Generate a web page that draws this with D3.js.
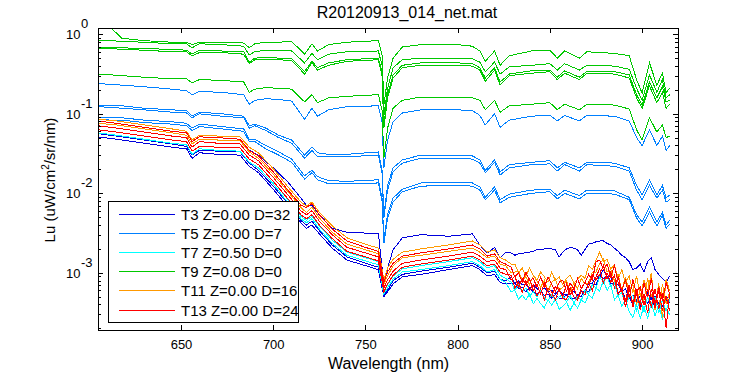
<!DOCTYPE html>
<html>
<head>
<meta charset="utf-8">
<script src="https://cdn.jsdelivr.net/npm/d3@7"></script>
<style>
  body { margin: 0; background: #fff; }
  text { font-family: "Liberation Sans", Arial, sans-serif; fill: #000; }
</style>
</head>
<body>
<svg id="chart" width="750" height="375"></svg>
<script>
// wavelength grids (nm)
var wlUpper = [605,612,618,630,645,653,656,660,672,684,687,690,696,703,710,717,721,724,730,740,757,759,760,762,765,770,780,800,808,812,815,820,823,828,840,850,854,858,866,870,885,893,897,900,904,908,911,913,915];
var wlLower = [605,615,630,645,653,656,660,670,682,687,692,700,708,715,718,721,725,732,740,750,757,760,762,765,770,780,795,808,812,816,820,823,826,
  829,831,833,835,837,839,841,843,845,847,849,851,853,855,857,859,861,863,865,867,869,871,873,875,877,879,881,883,885,887,889,891,893,895,897,899,901,903,905,907,909,911,913,915];

// all spectra below are log10(Lu)
// T3 (on wlLower)
var t3_1 = [-1.09,-1.12,-1.17,-1.22,-1.24,-1.35,-1.29,-1.30,-1.32,-1.46,-1.52,-1.68,-1.86,-2.06,-2.15,-2.15,-2.27,-2.44,-2.49,-2.50,-2.50,-3.15,-2.94,-2.71,-2.56,-2.52,-2.54,-2.51,-2.65,-2.75,-2.68,-2.81,-2.74,
  -2.75,-2.78,-2.76,-2.76,-2.74,-2.74,-2.73,-2.71,-2.71,-2.70,-2.69,-2.70,-2.71,-2.80,-2.74,-2.70,-2.68,-2.69,-2.71,-2.78,-2.71,-2.64,-2.63,-2.61,-2.60,-2.60,-2.63,-2.65,-2.69,-2.73,-2.78,-2.81,-2.86,-2.96,-2.94,-2.89,-2.99,-2.86,-2.81,-2.96,-3.02,-3.07,-3.12,-3.04];
var t3_2 = [-1.29,-1.32,-1.37,-1.42,-1.44,-1.56,-1.49,-1.51,-1.52,-1.66,-1.74,-1.95,-2.17,-2.37,-2.44,-2.40,-2.51,-2.69,-2.84,-2.91,-2.96,-3.30,-3.24,-3.14,-3.05,-3.02,-2.96,-2.91,-2.96,-3.04,-3.02,-3.12,-3.14,
  -3.13,-3.13,-3.20,-3.18,-3.24,-3.19,-3.24,-3.27,-3.22,-3.29,-3.27,-3.32,-3.27,-3.32,-3.33,-3.27,-3.32,-3.33,-3.28,-3.30,-3.22,-3.24,-3.15,-3.15,-3.04,-3.07,-3.04,-3.14,-3.14,-3.25,-3.22,-3.33,-3.29,-3.41,-3.34,-3.42,-3.30,-3.38,-3.32,-3.43,-3.37,-3.42,-3.33,-3.38];
var t3_3 = [-1.25,-1.28,-1.33,-1.38,-1.41,-1.52,-1.46,-1.47,-1.48,-1.62,-1.71,-1.91,-2.13,-2.34,-2.40,-2.35,-2.47,-2.65,-2.80,-2.88,-2.93,-3.28,-3.22,-3.10,-3.02,-2.98,-2.93,-2.88,-2.93,-3.00,-2.98,-3.08,-3.10,
  -3.05,-3.13,-3.10,-3.15,-3.14,-3.20,-3.15,-3.20,-3.23,-3.19,-3.24,-3.22,-3.27,-3.22,-3.27,-3.28,-3.24,-3.23,-3.29,-3.23,-3.23,-3.14,-3.13,-3.05,-3.04,-2.96,-3.05,-3.05,-3.15,-3.14,-3.24,-3.20,-3.32,-3.28,-3.37,-3.29,-3.34,-3.25,-3.34,-3.30,-3.39,-3.29,-3.35,-3.27];

// T5 (on wlUpper)
var t5_1 = [-0.62,-0.63,-0.64,-0.66,-0.69,-0.71,-0.76,-0.72,-0.73,-0.76,-0.88,-0.83,-0.81,-0.82,-0.84,-1.07,-0.93,-1.03,-0.95,-0.91,-0.90,-1.10,-1.68,-1.33,-1.10,-0.99,-0.95,-0.95,-0.96,-1.02,-1.14,-1.00,-1.17,-1.08,-1.03,-1.02,-1.09,-1.02,-1.09,-1.02,-1.03,-1.09,-1.30,-1.40,-1.20,-1.40,-1.28,-1.46,-1.40];
var t5_2 = [-0.89,-0.90,-0.90,-0.93,-0.95,-0.96,-1.03,-0.98,-1.00,-1.03,-1.15,-1.13,-1.18,-1.27,-1.33,-1.52,-1.42,-1.49,-1.51,-1.51,-1.48,-1.71,-2.27,-1.90,-1.68,-1.58,-1.52,-1.52,-1.53,-1.58,-1.71,-1.58,-1.73,-1.64,-1.61,-1.59,-1.68,-1.61,-1.68,-1.61,-1.62,-1.68,-1.90,-2.02,-1.83,-2.02,-1.90,-2.06,-2.02];
var t5_3 = [-0.91,-0.92,-0.93,-0.95,-0.98,-0.99,-1.05,-1.00,-1.03,-1.05,-1.18,-1.15,-1.21,-1.30,-1.37,-1.56,-1.46,-1.54,-1.54,-1.54,-1.52,-1.74,-2.31,-1.96,-1.73,-1.62,-1.56,-1.56,-1.57,-1.62,-1.74,-1.61,-1.77,-1.68,-1.64,-1.63,-1.72,-1.64,-1.72,-1.64,-1.66,-1.72,-1.96,-2.08,-1.90,-2.06,-1.96,-2.11,-2.08];
var t5_4 = [-1.04,-1.05,-1.05,-1.08,-1.10,-1.12,-1.18,-1.13,-1.16,-1.19,-1.32,-1.32,-1.40,-1.48,-1.57,-1.78,-1.71,-1.79,-1.84,-1.85,-1.83,-2.06,-2.59,-2.26,-2.06,-1.95,-1.87,-1.86,-1.87,-1.92,-2.05,-1.92,-2.08,-2.01,-1.96,-1.95,-2.03,-1.96,-2.03,-1.96,-1.97,-2.05,-2.27,-2.36,-2.17,-2.36,-2.24,-2.40,-2.34];
var t5_5 = [-1.07,-1.08,-1.08,-1.11,-1.13,-1.15,-1.21,-1.16,-1.19,-1.22,-1.35,-1.35,-1.44,-1.52,-1.61,-1.82,-1.74,-1.83,-1.88,-1.88,-1.87,-2.10,-2.63,-2.31,-2.11,-1.98,-1.91,-1.90,-1.91,-1.96,-2.08,-1.96,-2.12,-2.05,-2.00,-1.98,-2.07,-2.00,-2.07,-2.00,-2.01,-2.08,-2.31,-2.41,-2.24,-2.41,-2.28,-2.44,-2.39];

// T7 (on wlLower)
var t7_1 = [-1.24,-1.27,-1.32,-1.37,-1.39,-1.51,-1.44,-1.46,-1.47,-1.61,-1.68,-1.88,-2.12,-2.32,-2.37,-2.32,-2.45,-2.63,-2.78,-2.85,-2.90,-3.27,-3.19,-3.08,-2.99,-2.96,-2.91,-2.86,-2.91,-2.99,-2.96,-3.08,-3.12,
  -3.24,-3.22,-3.33,-3.28,-3.34,-3.27,-3.39,-3.32,-3.39,-3.44,-3.34,-3.41,-3.33,-3.46,-3.42,-3.37,-3.47,-3.38,-3.44,-3.34,-3.38,-3.28,-3.32,-3.19,-3.23,-3.10,-3.22,-3.15,-3.34,-3.28,-3.42,-3.33,-3.49,-3.56,-3.41,-3.57,-3.42,-3.57,-3.38,-3.54,-3.41,-3.58,-3.44,-3.53];
var t7_2 = [-1.20,-1.23,-1.28,-1.33,-1.35,-1.47,-1.41,-1.42,-1.43,-1.57,-1.64,-1.85,-2.08,-2.29,-2.34,-2.29,-2.41,-2.59,-2.74,-2.81,-2.86,-3.23,-3.15,-3.04,-2.95,-2.91,-2.86,-2.81,-2.86,-2.94,-2.91,-3.03,-3.07,
  -3.12,-3.22,-3.15,-3.24,-3.19,-3.29,-3.24,-3.30,-3.22,-3.32,-3.35,-3.27,-3.35,-3.30,-3.28,-3.37,-3.29,-3.38,-3.30,-3.35,-3.22,-3.27,-3.15,-3.19,-3.05,-3.12,-3.05,-3.17,-3.13,-3.29,-3.25,-3.41,-3.30,-3.29,-3.47,-3.34,-3.49,-3.30,-3.43,-3.30,-3.51,-3.34,-3.48,-3.33];

// T9 (on wlUpper)
var t9_1 = [0.21,0.08,-0.05,-0.08,-0.10,-0.10,-0.13,-0.10,-0.10,-0.11,-0.17,-0.12,-0.10,-0.10,-0.09,-0.25,-0.12,-0.21,-0.13,-0.10,-0.08,-0.26,-0.89,-0.55,-0.30,-0.16,-0.13,-0.13,-0.15,-0.21,-0.34,-0.21,-0.39,-0.27,-0.21,-0.20,-0.30,-0.21,-0.30,-0.22,-0.24,-0.27,-0.57,-0.74,-0.36,-0.64,-0.49,-0.73,-0.68];
var t9_2 = [-0.08,-0.08,-0.09,-0.10,-0.12,-0.12,-0.17,-0.12,-0.13,-0.15,-0.26,-0.22,-0.20,-0.21,-0.21,-0.36,-0.24,-0.32,-0.25,-0.22,-0.21,-0.39,-1.02,-0.68,-0.42,-0.32,-0.30,-0.30,-0.31,-0.35,-0.47,-0.35,-0.50,-0.41,-0.39,-0.37,-0.45,-0.37,-0.45,-0.39,-0.40,-0.44,-0.68,-0.83,-0.51,-0.73,-0.57,-0.80,-0.76];
var t9_3 = [-0.16,-0.16,-0.17,-0.18,-0.19,-0.20,-0.25,-0.20,-0.21,-0.22,-0.35,-0.30,-0.29,-0.30,-0.31,-0.47,-0.34,-0.42,-0.36,-0.32,-0.30,-0.47,-1.14,-0.76,-0.51,-0.39,-0.36,-0.36,-0.37,-0.42,-0.55,-0.42,-0.60,-0.50,-0.46,-0.45,-0.54,-0.46,-0.54,-0.47,-0.47,-0.51,-0.76,-0.89,-0.60,-0.80,-0.66,-0.85,-0.83];
var t9_4 = [-0.18,-0.18,-0.19,-0.20,-0.22,-0.22,-0.27,-0.23,-0.23,-0.25,-0.37,-0.32,-0.32,-0.32,-0.33,-0.50,-0.36,-0.45,-0.39,-0.34,-0.32,-0.52,-1.18,-0.80,-0.55,-0.42,-0.39,-0.39,-0.40,-0.45,-0.59,-0.45,-0.64,-0.52,-0.49,-0.47,-0.57,-0.49,-0.57,-0.49,-0.50,-0.55,-0.80,-0.93,-0.65,-0.86,-0.73,-0.93,-0.88];
var t9_5 = [-0.51,-0.51,-0.52,-0.54,-0.56,-0.56,-0.61,-0.57,-0.58,-0.60,-0.73,-0.69,-0.67,-0.68,-0.69,-0.85,-0.76,-0.86,-0.80,-0.78,-0.76,-0.95,-1.56,-1.18,-0.93,-0.83,-0.79,-0.79,-0.80,-0.83,-0.95,-0.83,-0.98,-0.90,-0.88,-0.86,-0.95,-0.88,-0.95,-0.88,-0.89,-0.94,-1.20,-1.33,-1.05,-1.23,-1.14,-1.30,-1.28];

// T11 (on wlLower)
var t11_1 = [-1.07,-1.09,-1.14,-1.19,-1.22,-1.33,-1.27,-1.28,-1.29,-1.42,-1.49,-1.69,-1.92,-2.11,-2.16,-2.11,-2.24,-2.41,-2.56,-2.64,-2.69,-3.09,-2.94,-2.83,-2.74,-2.70,-2.65,-2.60,-2.65,-2.74,-2.71,-2.81,-2.84,
  -2.89,-2.89,-3.00,-2.94,-3.04,-2.94,-3.03,-3.09,-2.99,-3.05,-3.12,-2.99,-3.10,-3.05,-3.15,-3.07,-3.03,-3.13,-3.08,-3.03,-3.07,-2.91,-2.96,-2.84,-2.74,-2.86,-2.83,-2.95,-2.90,-3.08,-2.96,-3.13,-3.04,-3.25,-3.04,-3.30,-3.09,-3.24,-3.00,-3.47,-3.13,-3.57,-3.08,-3.23];
var t11_2 = [-1.12,-1.14,-1.19,-1.24,-1.27,-1.38,-1.32,-1.33,-1.34,-1.48,-1.56,-1.76,-1.98,-2.18,-2.24,-2.17,-2.31,-2.49,-2.64,-2.71,-2.76,-3.14,-3.04,-2.91,-2.81,-2.78,-2.73,-2.69,-2.74,-2.81,-2.79,-2.89,-2.91,
  -3.00,-2.99,-2.98,-3.09,-3.05,-3.15,-3.04,-3.10,-3.18,-3.09,-3.23,-3.12,-3.08,-3.22,-3.18,-3.10,-3.24,-3.13,-3.20,-3.07,-3.14,-3.14,-2.99,-2.99,-2.88,-2.83,-2.99,-2.96,-3.10,-3.02,-3.23,-3.05,-3.23,-3.14,-3.41,-3.19,-3.35,-3.07,-3.29,-3.20,-3.46,-3.14,-3.39,-3.24];

// T13 (on wlLower)
var t13_1 = [-1.09,-1.12,-1.17,-1.22,-1.24,-1.35,-1.29,-1.30,-1.32,-1.46,-1.53,-1.73,-1.96,-2.15,-2.18,-2.13,-2.27,-2.45,-2.60,-2.68,-2.73,-3.12,-2.99,-2.88,-2.79,-2.75,-2.70,-2.65,-2.70,-2.79,-2.76,-2.86,-2.89,
  -2.93,-3.05,-3.00,-3.12,-2.99,-3.10,-3.07,-3.18,-3.05,-3.18,-3.05,-3.15,-3.24,-3.12,-3.09,-3.23,-3.13,-3.20,-3.07,-3.20,-3.12,-3.02,-3.09,-2.86,-2.84,-2.96,-2.89,-3.05,-2.91,-3.12,-3.23,-3.08,-3.32,-3.08,-3.28,-3.39,-3.13,-3.30,-3.07,-3.41,-3.18,-3.35,-3.12,-3.28];
var t13_2 = [-1.15,-1.18,-1.23,-1.28,-1.30,-1.42,-1.35,-1.37,-1.38,-1.52,-1.59,-1.80,-2.02,-2.22,-2.27,-2.22,-2.35,-2.52,-2.68,-2.75,-2.80,-3.19,-3.09,-2.98,-2.88,-2.84,-2.79,-2.74,-2.79,-2.86,-2.84,-2.94,-2.96,
  -3.09,-3.04,-3.18,-3.07,-3.15,-3.07,-3.22,-3.14,-3.27,-3.13,-3.24,-3.30,-3.17,-3.22,-3.30,-3.14,-3.28,-3.19,-3.33,-3.19,-3.12,-3.18,-3.02,-3.09,-3.02,-2.91,-3.08,-2.99,-3.19,-3.05,-3.23,-3.35,-3.15,-3.43,-3.23,-3.18,-3.41,-3.20,-3.44,-3.20,-3.46,-3.25,-3.69,-3.24];
var t13_3 = [-1.20,-1.23,-1.28,-1.33,-1.35,-1.47,-1.41,-1.42,-1.43,-1.57,-1.64,-1.85,-2.07,-2.27,-2.32,-2.27,-2.40,-2.57,-2.73,-2.80,-2.85,-3.24,-3.14,-3.03,-2.93,-2.89,-2.84,-2.79,-2.84,-2.91,-2.89,-2.99,-3.02,
  -3.03,-3.19,-3.12,-3.25,-3.10,-3.22,-3.15,-3.29,-3.20,-3.34,-3.19,-3.24,-3.34,-3.20,-3.32,-3.34,-3.19,-3.30,-3.35,-3.22,-3.28,-3.12,-3.23,-3.05,-2.95,-3.13,-3.00,-3.12,-3.03,-3.27,-3.20,-3.43,-3.20,-3.38,-3.20,-3.47,-3.27,-3.51,-3.20,-3.44,-3.22,-3.48,-3.29,-3.48];

var labels = ['T3 Z=0.00 D=32', 'T5 Z=0.00 D=7', 'T7 Z=0.50 D=0', 'T9 Z=0.08 D=0', 'T11 Z=0.00 D=16', 'T13 Z=0.00 D=24'];
var seriesCurves = [[t3_1, t3_2, t3_3], [t5_1, t5_2, t5_3, t5_4, t5_5], [t7_1, t7_2], [t9_1, t9_2, t9_3, t9_4, t9_5], [t11_1, t11_2], [t13_1, t13_2, t13_3]];
var seriesWl = [wlLower, wlUpper, wlLower, wlUpper, wlLower, wlLower];
var colors = ['#0000dd', '#0080ff', '#00ffff', '#00c800', '#ff9900', '#ff0000'];

var xTicks = [650, 700, 750, 800, 850, 900];
var yExponents = [0, -1, -2, -3];

// plot box (pixels)
var pLeft = 98, pRight = 679, pTop = 28, pBottom = 331;

var x = d3.scaleLinear().domain([605, 920]).range([pLeft, pRight]);
var y = d3.scaleLog().domain([Math.pow(10, -3.732), Math.pow(10, 0.079)]).range([pBottom, pTop]);

var svg = d3.select('#chart');
svg.append('rect').attr('width', 750).attr('height', 375).attr('fill', '#fff');

svg.append('clipPath').attr('id', 'plotclip')
  .append('rect').attr('x', pLeft).attr('y', pTop).attr('width', pRight - pLeft).attr('height', pBottom - pTop);

var plot = svg.append('g').attr('clip-path', 'url(#plotclip)');

var line = d3.line()
  .x(function(d) { return x(d[0]); })
  .y(function(d) { return y(Math.pow(10, d[1])); });

// draw every spectrum, series in legend order
seriesCurves.forEach(function(curves, i) {
  curves.forEach(function(c) {
    plot.append('path')
      .datum(d3.zip(seriesWl[i], c))
      .attr('d', line)
      .attr('fill', 'none')
      .attr('stroke', colors[i])
      .attr('stroke-width', 1)
      .attr('shape-rendering', 'crispEdges');
  });
});

// minor ticks for the log axis
var minorY = [];
for (var e = -4; e <= 0; e++) {
  for (var k = 2; k <= 9; k++) {
    var v = k * Math.pow(10, e);
    if (v > y.domain()[0] && v < y.domain()[1]) minorY.push(v);
  }
}
var majorY = yExponents.map(function(e) { return Math.pow(10, e); });

function styleAxis(g) {
  g.select('.domain').remove();
  g.selectAll('line').attr('stroke', '#000').attr('shape-rendering', 'crispEdges');
  g.selectAll('text').remove();
}

// bottom axis with labels
var xb = svg.append('g').attr('transform', 'translate(0,' + (pBottom - 1) + ')')
  .call(d3.axisBottom(x).tickValues(xTicks).tickSize(-5).tickPadding(10));
xb.select('.domain').remove();
xb.selectAll('line').attr('stroke', '#000').attr('shape-rendering', 'crispEdges');
xb.selectAll('text').attr('font-size', '13px').attr('font-family', '"Liberation Sans", Arial, sans-serif').attr('fill', '#000');

svg.append('g').attr('transform', 'translate(0,' + pTop + ')')
  .call(d3.axisTop(x).tickValues(xTicks).tickSize(-5)).call(styleAxis);

svg.append('g').attr('transform', 'translate(' + pLeft + ',0)')
  .call(d3.axisLeft(y).tickValues(majorY).tickSize(-5)).call(styleAxis);
svg.append('g').attr('transform', 'translate(' + pLeft + ',0)')
  .call(d3.axisLeft(y).tickValues(minorY).tickSize(-3)).call(styleAxis);
svg.append('g').attr('transform', 'translate(' + (pRight - 1) + ',0)')
  .call(d3.axisRight(y).tickValues(majorY).tickSize(-5)).call(styleAxis);
svg.append('g').attr('transform', 'translate(' + (pRight - 1) + ',0)')
  .call(d3.axisRight(y).tickValues(minorY).tickSize(-3)).call(styleAxis);

// frame
svg.append('rect')
  .attr('x', pLeft + 0.5).attr('y', pTop + 0.5)
  .attr('width', pRight - pLeft - 1).attr('height', pBottom - pTop - 1)
  .attr('fill', 'none').attr('stroke', '#000');

// y tick labels as 10^n
yExponents.forEach(function(e) {
  var yy = y(Math.pow(10, e));
  svg.append('text').attr('x', 66).attr('y', yy + 5).attr('font-size', '13px').text('10');
  svg.append('text').attr('x', 81).attr('y', yy - 6).attr('font-size', '13px').text(String(e));
});

// titles
svg.append('text').attr('x', 407).attr('y', 18).attr('text-anchor', 'middle')
  .attr('font-size', '16px').text('R20120913_014_net.mat');
svg.append('text').attr('x', (pLeft + pRight) / 2).attr('y', 369).attr('text-anchor', 'middle')
  .attr('font-size', '16px').text('Wavelength (nm)');
var yl = svg.append('text').attr('transform', 'translate(55,180) rotate(-90)')
  .attr('text-anchor', 'middle').attr('font-size', '15px');
yl.append('tspan').text('Lu (uW/cm');
yl.append('tspan').attr('dy', -6).attr('font-size', '10px').text('2');
yl.append('tspan').attr('dy', 6).text('/sr/nm)');

// legend
var lg = svg.append('g');
lg.append('rect').attr('x', 108.5).attr('y', 201.5).attr('width', 190).attr('height', 121)
  .attr('fill', '#fff').attr('stroke', '#000');
labels.forEach(function(name, i) {
  var ly = Math.round(213.5 + i * 19.2);
  lg.append('line').attr('x1', 119).attr('x2', 175).attr('y1', ly + 0.5).attr('y2', ly + 0.5)
    .attr('stroke', colors[i]).attr('stroke-width', 1).attr('shape-rendering', 'crispEdges');
  lg.append('text').attr('x', 181).attr('y', ly + 6).attr('font-size', '15px').text(name);
});
</script>
</body>
</html>
